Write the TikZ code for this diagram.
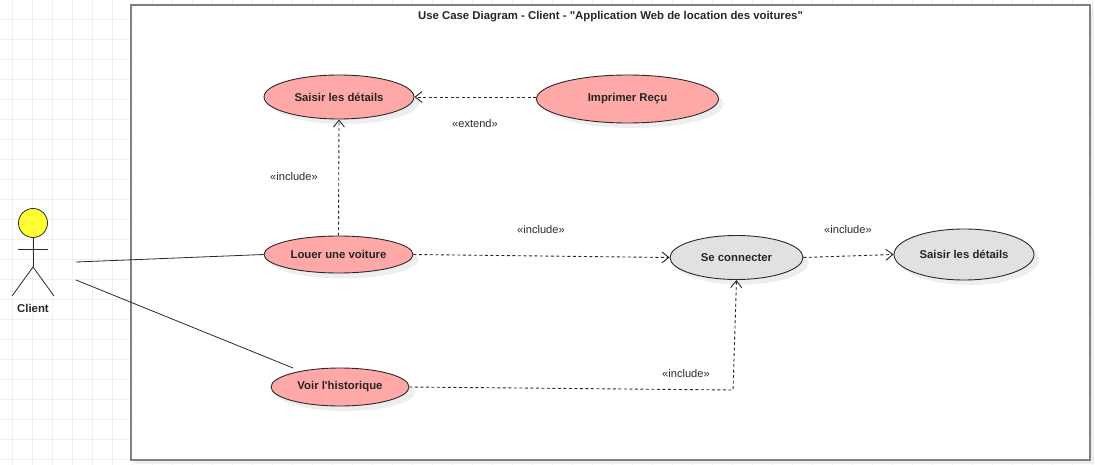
\documentclass[tikz,border=0pt]{standalone}
\usepackage{fontspec}
\setmainfont[Ligatures=TeXOff]{Liberation Sans}
\usetikzlibrary{shapes.geometric,arrows.meta}
\definecolor{gridline}{HTML}{F0F0F0}
\definecolor{caseshadow}{HTML}{EEEEEE}
\definecolor{framegray}{HTML}{808080}
\definecolor{casered}{HTML}{FFA8A8}
\definecolor{casegray}{HTML}{E1E1E1}
\definecolor{edgegray}{HTML}{2A2A2A}
\definecolor{headyellow}{HTML}{FFFF33}
\begin{document}
\begin{tikzpicture}[x=1pt,y=-1pt]
 	\tikzstyle{every node}+=[inner sep=0pt]
 	\tikzstyle{usecase}=[ellipse,draw=edgegray,line width=0.9pt,text=black!85,font=\fontsize{11.35}{13}\bfseries]
 	\tikzstyle{redcase}=[usecase,fill=casered]
 	\tikzstyle{graycase}=[usecase,fill=casegray]
 	\tikzstyle{stereo}=[font=\fontsize{11.1}{13}\selectfont,text=edgegray]
 	\tikzstyle{dep}=[edgegray,line width=0.9pt,dash pattern=on 3pt off 2.5pt,-{Straight Barb[length=7pt,width=11pt,line width=0.9pt]}]
 	\tikzstyle{assoc}=[edgegray,line width=0.8pt]
 	\useasboundingbox (0,0) rectangle (1095,465);
 	\foreach \gx in {12,32,...,1092} \draw [gridline,line width=0.8pt] (\gx,0) -- (\gx,465);
 	\foreach \gy in {19,39,...,459} \draw [gridline,line width=0.8pt] (0,\gy) -- (1095,\gy);
 	\fill [caseshadow] (135,9) rectangle (1094,464);
 	\draw [framegray,line width=1.6pt,fill=white] (131,5) rectangle (1090,460);
 	\node (title) at (610.5,17) [text=black!85,font=\fontsize{11.38}{13}\bfseries] {Use Case Diagram - Client - "Application Web de location des voitures"};
 	\fill [caseshadow] (344.5,102) ellipse (75 and 22);
 	\fill [caseshadow] (632.5,104) ellipse (91 and 24);
 	\fill [caseshadow] (343.5,259.5) ellipse (75 and 19);
 	\fill [caseshadow] (345,392) ellipse (70 and 19);
 	\fill [caseshadow] (741.5,262.5) ellipse (67 and 22);
 	\fill [caseshadow] (969,259.5) ellipse (70 and 25.5);
 	\node (saisir) at (339,97) [redcase,minimum width=150pt,minimum height=44pt] {Saisir les détails};
 	\node (imprimer) at (627.5,99) [redcase,minimum width=182pt,minimum height=48pt] {Imprimer Reçu};
 	\node (louer) at (338.5,254.5) [redcase,minimum width=149pt,minimum height=37pt] {Louer une voiture};
 	\node (voir) at (340,387) [redcase,minimum width=138pt,minimum height=38pt] {Voir l'historique};
 	\node (connecter) at (736.5,257.5) [graycase,minimum width=133pt,minimum height=44pt] {Se connecter};
 	\node (details) at (964,254.5) [graycase,minimum width=140pt,minimum height=51pt] {Saisir les détails};
 	\node (head) at (33,223) [circle,draw=edgegray,line width=0.8pt,fill=headyellow,minimum size=29pt] {};
 	\coordinate (hip) at (33,267);
 	\coordinate (armL) at (18,249);
 	\coordinate (armR) at (48,249);
 	\coordinate (footL) at (12,296);
 	\coordinate (footR) at (54,296);
 	\draw [assoc] (head.south) -- (hip);
 	\draw [assoc] (armL) -- (armR);
 	\draw [assoc] (footL) -- (hip) -- (footR);
 	\node (client) at (33,308.5) [text=black!85,font=\fontsize{11.35}{13}\bfseries] {Client};
 	\coordinate (clientA) at (76,262);
 	\coordinate (clientB) at (76,280);
 	\coordinate (voirTop) at (293,368);
 	\coordinate (bend) at (733,390);
 	\draw [assoc] (clientA) -- (louer.west);
 	\draw [assoc] (clientB) -- (voirTop);
 	\draw [dep] (louer.north) -- (saisir.south);
 	\draw [dep] (imprimer.west |- saisir.east) -- (saisir.east);
 	\draw [dep] (louer.east) -- (connecter.west);
 	\draw [dep] (connecter.east) -- (details.west);
 	\draw [dep] (voir.east) -- (bend) -- (connecter.south);
 	\node (extendA) at (475,124) [stereo] {«extend»};
 	\node (includeA) at (294,177) [stereo] {«include»};
 	\node (includeB) at (541,230) [stereo] {«include»};
 	\node (includeC) at (848,230) [stereo] {«include»};
 	\node (includeD) at (686,374) [stereo] {«include»};
 	\end{tikzpicture}
\end{document}
